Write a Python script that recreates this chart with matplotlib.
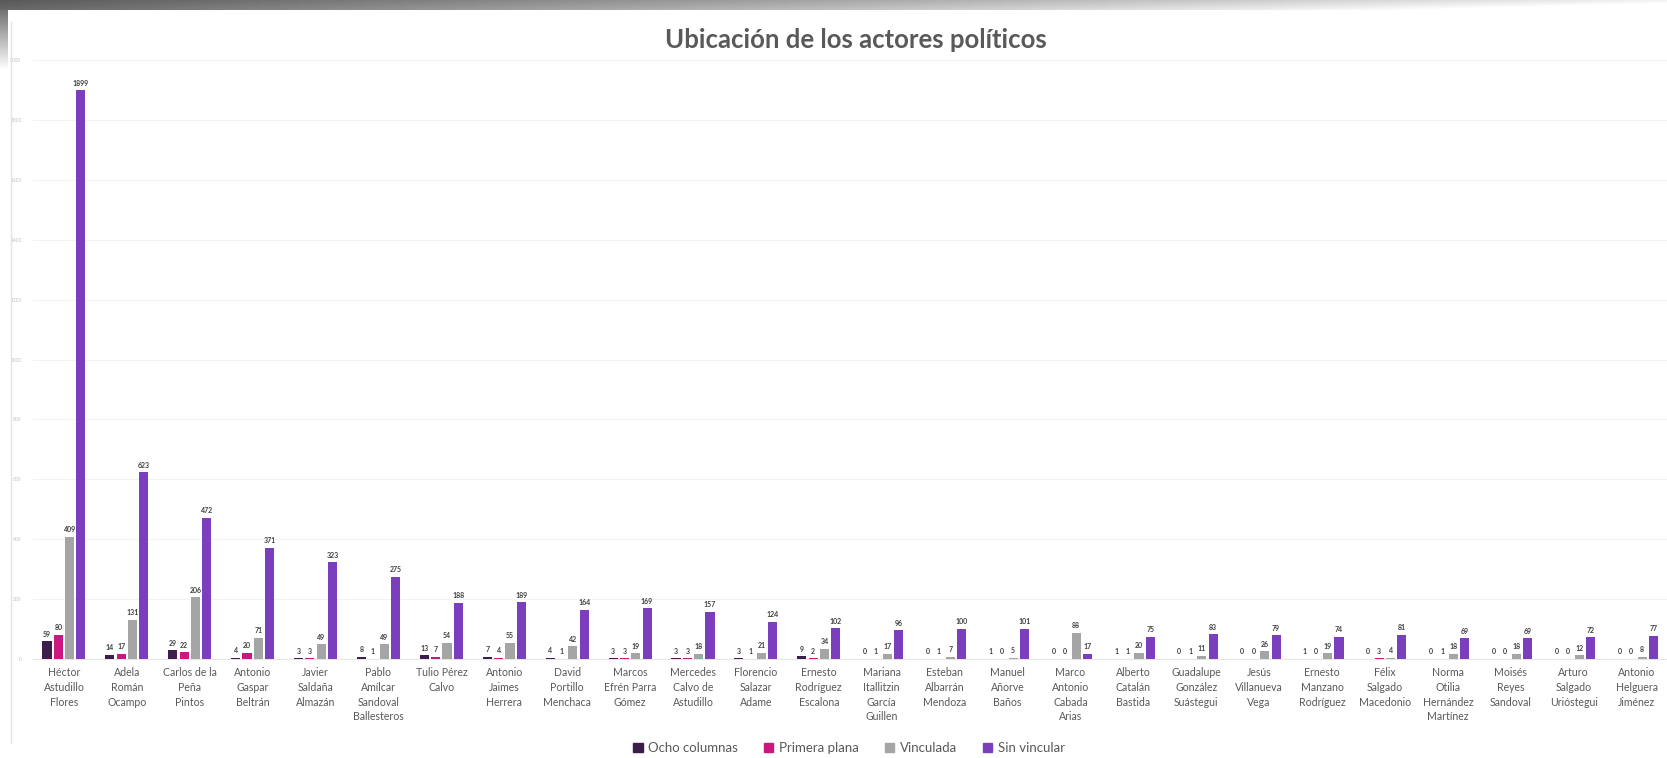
import numpy as np
import matplotlib
matplotlib.use("Agg")
import matplotlib.pyplot as plt
from matplotlib.patches import Patch

plt.rcParams['font.family'] = ['Lato', 'DejaVu Sans']

# data
actores = [
    "Héctor\nAstudillo\nFlores", "Adela\nRomán\nOcampo", "Carlos de la\nPeña\nPintos",
    "Antonio\nGaspar\nBeltrán", "Javier\nSaldaña\nAlmazán", "Pablo\nAmílcar\nSandoval\nBallesteros",
    "Tulio Pérez\nCalvo", "Antonio\nJaimes\nHerrera", "David\nPortillo\nMenchaca",
    "Marcos\nEfrén Parra\nGómez", "Mercedes\nCalvo de\nAstudillo", "Florencio\nSalazar\nAdame",
    "Ernesto\nRodríguez\nEscalona", "Mariana\nItallitzin\nGarcía\nGuillen", "Esteban\nAlbarrán\nMendoza",
    "Manuel\nAñorve\nBaños", "Marco\nAntonio\nCabada\nArias", "Alberto\nCatalán\nBastida",
    "Guadalupe\nGonzález\nSuástegui", "Jesús\nVillanueva\nVega", "Ernesto\nManzano\nRodríguez",
    "Félix\nSalgado\nMacedonio", "Norma\nOtilia\nHernández\nMartínez", "Moisés\nReyes\nSandoval",
    "Arturo\nSalgado\nUrióstegui", "Antonio\nHelguera\nJiménez",
]
ocho_columnas = [59, 14, 29, 4, 3, 8, 13, 7, 4, 3, 3, 3, 9, 0, 0, 1, 0, 1, 0, 0, 1, 0, 0, 0, 0, 0]
primera_plana = [80, 17, 22, 20, 3, 1, 7, 4, 1, 3, 3, 1, 2, 1, 1, 0, 0, 1, 1, 0, 0, 3, 1, 0, 0, 0]
vinculada = [409, 131, 206, 71, 49, 49, 54, 55, 42, 19, 18, 21, 34, 17, 7, 5, 88, 20, 11, 26, 19, 4, 18, 18, 12, 8]
sin_vincular = [1899, 623, 472, 371, 323, 275, 188, 189, 164, 169, 157, 124, 102, 96, 100, 101, 17, 75, 83, 79, 74, 81, 69, 69, 72, 77]

series = [
    ("Ocho columnas", ocho_columnas, "#3d1d4c"),
    ("Primera plana", primera_plana, "#cc1780"),
    ("Vinculada", vinculada, "#a5a5a5"),
    ("Sin vincular", sin_vincular, "#7b3fbe"),
]

W, H = 1667, 758
fig = plt.figure(figsize=(W / 100, H / 100), dpi=100)
fig.patch.set_facecolor("white")

# screenshot shadow on top edge
shadow = fig.add_axes([0, 1 - 10 / H, 1, 10 / H])
grad = np.linspace(0.35, 0.95, 256)[None, :] * np.linspace(1.0, 1.15, 10)[:, None]
shadow.imshow(np.clip(grad, 0, 1), cmap="gray", vmin=0, vmax=1, aspect="auto")
shadow.axis("off")
side = fig.add_axes([0, 1 - 70 / H, 8 / W, 60 / H])
side.imshow(np.linspace(0.45, 1.0, 64)[:, None] * np.ones((1, 4)), cmap="gray", vmin=0, vmax=1, aspect="auto")
side.axis("off")

ax = fig.add_axes([32.5 / W, (H - 659) / H, 1635.5 / W, 599 / H])
x = np.arange(len(actores))
width = 0.145
offsets = [-1.5, -0.5, 0.5, 1.5]

for (name, vals, color), off in zip(series, offsets):
    bars = ax.bar(x + off * 0.18, vals, width, color=color, label=name, zorder=3)
    for b, v in zip(bars, vals):
        ax.text(b.get_x() + b.get_width() / 2, v + 12, str(v), ha="center", va="bottom",
                fontsize=5, color="#404040", fontweight="bold", zorder=4)

ax.set_xlim(-0.5, len(actores) - 0.5)
ax.set_ylim(0, 2000)
ax.set_yticks(range(0, 2001, 200))
ax.set_yticklabels([str(v) for v in range(0, 2001, 200)], fontsize=3.5, color="#c0c0c0")
ax.yaxis.grid(True, color="#f3f3f3", linewidth=0.8, zorder=0)
ax.set_xticks(x)
ax.set_xticklabels(actores, fontsize=7.6, color="#595959", linespacing=1.4)
ax.tick_params(axis="both", length=0, pad=6)
ax.tick_params(axis="y", pad=8)
for s in ["top", "right", "left"]:
    ax.spines[s].set_visible(False)
ax.spines["bottom"].set_color("#e6e6e6")

# panel border on the left
fig.add_artist(plt.Line2D([11 / W, 11 / W], [0.02, 1 - 22 / H], color="#e4e4e4", linewidth=1))

fig.text(856 / W, 1 - 40 / H, "Ubicación de los actores políticos", ha="center", va="center",
         fontsize=18.5, fontweight="bold", color="#595959")

handles = [Patch(color=c, label=n) for n, _, c in series]
fig.legend(handles=handles, loc="center", bbox_to_anchor=(849 / W, 1 - 748 / H), ncol=4,
           frameon=False, fontsize=9.5, handlelength=0.7, handleheight=0.7,
           handletextpad=0.4, columnspacing=2.0, labelcolor="#595959")

fig.savefig("out.png", dpi=100, facecolor="white")
